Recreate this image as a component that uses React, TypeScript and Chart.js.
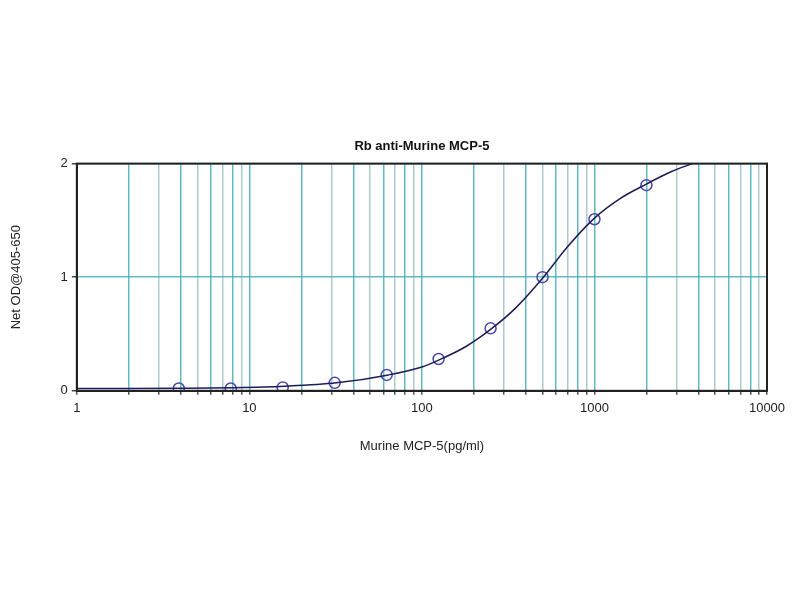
import React, { useEffect, useRef } from "react";
import { Chart, registerables } from "chart.js";

Chart.register(...registerables);

const chartTitle = "Rb anti-Murine MCP-5";
const xTitle = "Murine MCP-5(pg/ml)";
const yTitle = "Net OD@405-650";

// measured standards
const standardConc = [3.9, 7.8, 15.6, 31.25, 62.5, 125, 250, 500, 1000, 2000];
const standardOD = [0.02, 0.02, 0.03, 0.07, 0.14, 0.28, 0.55, 1.0, 1.51, 1.81];

// fitted curve
const curveConc = [1, 2, 4, 8, 16, 32, 64, 100, 125, 180, 250, 350, 500, 700, 1000, 1400, 2000, 2800, 3700];
const curveOD = [0.02, 0.02, 0.022, 0.027, 0.04, 0.07, 0.14, 0.21, 0.27, 0.39, 0.54, 0.73, 0.99, 1.27, 1.52, 1.69, 1.82, 1.93, 2.0];

const decades = [1, 10, 100, 1000];
const multipliers = [1, 2, 3, 4, 5, 6, 7, 8, 9];
const xMax = 10000;
const xTickLabels = ["1", "10", "100", "1000", "10000"];
const yTicks = [0, 1, 2];

const FONT = "'Liberation Sans', Arial, sans-serif";

const frame = {
  id: "frame",
  afterDatasetsDraw(chart: any) {
    const { ctx, chartArea } = chart;
    ctx.save();
    ctx.strokeStyle = "#222";
    ctx.lineWidth = 2;
    ctx.strokeRect(chartArea.left, chartArea.top, chartArea.right - chartArea.left, chartArea.bottom - chartArea.top);
    ctx.restore();
  },
};

export default function App() {
  const ref = useRef<HTMLCanvasElement>(null);
  useEffect(() => {
    document.body.style.margin = "0";
    const xTickValues: number[] = [];
    decades.forEach((d) => multipliers.forEach((m) => xTickValues.push(d * m)));
    xTickValues.push(xMax);
    const chart = new Chart(ref.current!, {
      type: "scatter",
      data: {
        datasets: [
          {
            label: "fit",
            data: curveConc.map((x, i) => ({ x, y: curveOD[i] })),
            showLine: true,
            cubicInterpolationMode: "monotone",
            borderColor: "#1c1c5a",
            borderWidth: 1.5,
            pointRadius: 0,
            fill: false,
          } as any,
          {
            label: "standards",
            data: standardConc.map((x, i) => ({ x, y: standardOD[i] })),
            showLine: false,
            pointRadius: 5.5,
            pointBorderWidth: 1.5,
            pointBorderColor: "#4a4aa8",
            pointBackgroundColor: "rgba(255,255,255,0)",
          },
        ],
      },
      options: {
        animation: false,
        responsive: false,
        layout: { padding: { left: 9, right: 33, top: 0, bottom: 0 } },
        plugins: {
          legend: { display: false },
          tooltip: { enabled: false },
          title: {
            display: true,
            fullSize: false,
            text: chartTitle,
            color: "#111",
            font: { family: FONT, size: 13, weight: "bold" },
            padding: { top: 139, bottom: 9 },
          },
        },
        scales: {
          x: {
            type: "logarithmic",
            min: 1,
            max: xMax,
            afterBuildTicks: (scale: any) => {
              scale.ticks = xTickValues.map((v) => ({ value: v }));
            },
            ticks: {
              autoSkip: false,
              maxRotation: 0,
              color: "#222",
              font: { family: FONT, size: 13 },
              padding: 6,
              callback: (v: any) => {
                const idx = [1, 10, 100, 1000, 10000].indexOf(Number(v));
                return idx >= 0 ? xTickLabels[idx] : "";
              },
            },
            grid: {
              color: (c: any) => {
                const v = c.tick ? c.tick.value : 0;
                const m = Math.round(v / Math.pow(10, Math.floor(Math.log10(v) + 1e-9)));
                return m % 2 === 1 && m !== 1 ? "rgba(150,190,195,0.8)" : "rgba(70,175,185,0.85)";
              },
              lineWidth: 1.5,
              tickLength: 4,
              tickColor: "#555",
            },
            border: { display: true, color: "#222", width: 2 },
            title: {
              display: true,
              text: xTitle,
              color: "#222",
              font: { family: FONT, size: 13 },
              padding: { top: 16, bottom: 146 },
            },
          },
          y: {
            min: 0,
            max: 2,
            afterBuildTicks: (scale: any) => {
              scale.ticks = yTicks.map((v) => ({ value: v }));
            },
            ticks: {
              color: "#222",
              font: { family: FONT, size: 13 },
              padding: 4,
            },
            grid: {
              color: "rgba(70,175,185,0.85)",
              lineWidth: 1.5,
              tickLength: 5,
              tickColor: "#444",
            },
            border: { display: true, color: "#222", width: 2 },
            title: {
              display: true,
              text: yTitle,
              color: "#222",
              font: { family: FONT, size: 13 },
              padding: { top: 0, bottom: 32 },
            },
          },
        },
      },
      plugins: [frame],
    });
    return () => chart.destroy();
  }, []);
  return (
    <div style={{ position: "fixed", left: 0, top: 0, width: 800, height: 600, background: "#fff" }}>
      <canvas ref={ref} width={800} height={600} style={{ width: 800, height: 600 }} />
    </div>
  );
}
